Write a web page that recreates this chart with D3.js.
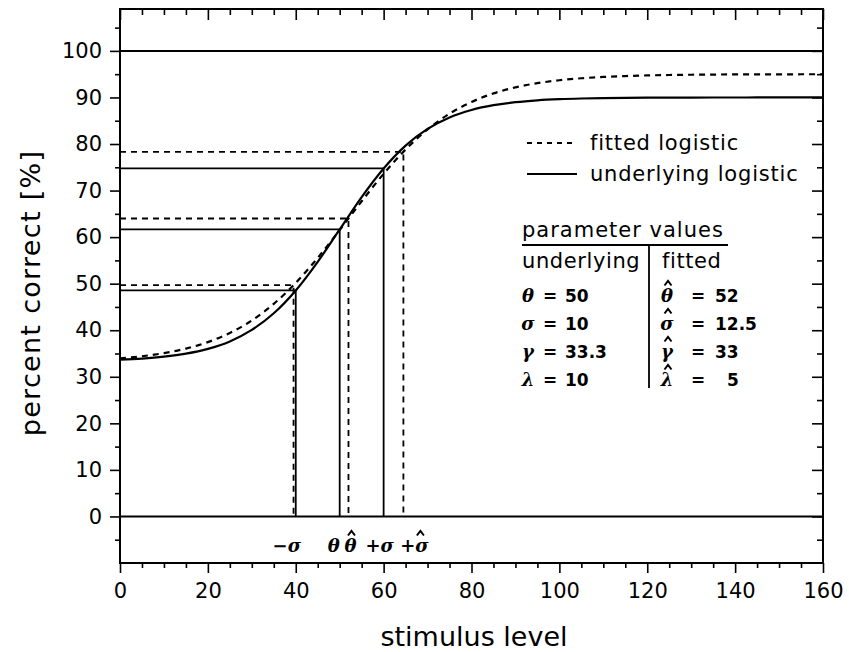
<!DOCTYPE html>
<html>
<head>
<meta charset="utf-8">
<script src="https://cdnjs.cloudflare.com/ajax/libs/d3/7.8.5/d3.min.js"></script>
<style>
    body { margin: 0; background: #fff; }
    svg { display: block; }
    .tick text { font-family: "DejaVu Sans", sans-serif; font-size: 21px; fill: #000; }
    .tick line { stroke: #000; stroke-width: 1.6; }
    .greek { font-family: "DejaVu Serif", serif; font-weight: bold; font-style: italic; }
    .num { font-family: "DejaVu Sans", sans-serif; font-weight: bold; }
    .lbl { font-family: "DejaVu Sans", sans-serif; }
</style>
</head>
<body>
<div id="chart_area"></div>
<script>
// stimulus levels and percent correct
var stimulus = [0, 5, 10, 15, 20, 25, 30, 35, 40, 45, 50, 55, 60, 65, 70, 75, 80,
    85, 90, 95, 100, 105, 110, 115, 120, 125, 130, 135, 140, 145, 150, 155, 160];
var underlyingPct = [33.68, 33.92, 34.32, 34.96, 35.99, 37.60, 40.06, 43.64, 48.55, 54.70, 61.65,
    68.60, 74.75, 79.66, 83.24, 85.70, 87.31, 88.34, 88.98, 89.38, 89.62, 89.77, 89.86,
    89.91, 89.95, 89.97, 89.98, 89.99, 89.99, 90.0, 90.0, 90.0, 90.0];
var fittedPct = [33.95, 34.41, 35.08, 36.05, 37.45, 39.41, 42.10, 45.66, 50.17, 55.54, 61.53,
    67.70, 73.60, 78.81, 83.13, 86.51, 89.03, 90.87, 92.17, 93.07, 93.70, 94.12, 94.41,
    94.60, 94.73, 94.82, 94.88, 94.92, 94.95, 94.96, 94.97, 94.98, 94.99];

// theta - sigma, theta, theta + sigma
var underlyingMarks = [40, 50, 60];
var underlyingMarkPct = [48.55, 61.65, 74.75];
var fittedMarks = [39.5, 52, 64.5];
var fittedMarkPct = [49.67, 64.0, 78.33];

var xTicks = [0, 20, 40, 60, 80, 100, 120, 140, 160];
var yTicks = [0, 10, 20, 30, 40, 50, 60, 70, 80, 90, 100];

var paramNames = ["θ", "σ", "γ", "λ"];
var underlyingParams = ["50", "10", "33.3", "10"];
var fittedParams = ["52", "12.5", "33", "5"];

var width = 849, height = 652;
var margin = { top: 9, right: 26, bottom: 89, left: 120 };

var svg = d3.select("#chart_area")
    .append("svg")
    .attr("width", width)
    .attr("height", height);

var x = d3.scaleLinear().domain([0, 160]).range([margin.left, width - margin.right]);
var y = d3.scaleLinear().domain([-10, 109]).range([height - margin.bottom, margin.top]);

var minorX = d3.range(0, 161, 5).filter(function (d) { return d % 20 !== 0; });
var minorY = d3.range(-5, 109, 5).filter(function (d) { return d % 10 !== 0 || d < 0 || d > 100; });

// axes: left/bottom ticks point out, top/right point in
function axisGroup(axis, tx, ty) {
    var g = svg.append("g").attr("transform", "translate(" + tx + "," + ty + ")").call(axis);
    g.select(".domain").remove();
    return g;
}
axisGroup(d3.axisLeft(y).tickValues(yTicks).tickSize(10).tickPadding(8), margin.left, 0);
axisGroup(d3.axisLeft(y).tickValues(minorY).tickSize(5).tickFormat(""), margin.left, 0);
axisGroup(d3.axisBottom(x).tickValues(xTicks).tickSize(10).tickPadding(10), 0, y(-10));
axisGroup(d3.axisBottom(x).tickValues(minorX).tickSize(5).tickFormat(""), 0, y(-10));
axisGroup(d3.axisBottom(x).tickValues(xTicks).tickSize(11).tickFormat(""), 0, y(109));
axisGroup(d3.axisBottom(x).tickValues(minorX).tickSize(6).tickFormat(""), 0, y(109));
axisGroup(d3.axisLeft(y).tickValues(yTicks).tickSize(11).tickFormat(""), x(160), 0);
axisGroup(d3.axisLeft(y).tickValues(minorY).tickSize(6).tickFormat(""), x(160), 0);

svg.append("rect")
    .attr("x", x(0)).attr("y", y(109))
    .attr("width", x(160) - x(0)).attr("height", y(-10) - y(109))
    .style("fill", "none").style("stroke", "#000").style("stroke-width", 2);

// 0 and 100 percent lines
svg.selectAll(".limit")
    .data([0, 100])
    .enter().append("line")
    .attr("class", "limit")
    .attr("x1", x(0)).attr("x2", x(160))
    .attr("y1", function (d) { return y(d); })
    .attr("y2", function (d) { return y(d); })
    .style("stroke", "#000").style("stroke-width", 2);

// drop lines from the curves to the axes
function dropLines(marks, pct, dash) {
    var g = svg.append("g")
        .style("stroke", "#000").style("stroke-width", 1.8).style("fill", "none")
        .style("stroke-dasharray", dash);
    marks.forEach(function (m, i) {
        g.append("path")
            .attr("d", "M" + x(0) + "," + y(pct[i]) + "H" + x(m) + "V" + y(0));
    });
}
dropLines(underlyingMarks, underlyingMarkPct, null);
dropLines(fittedMarks, fittedMarkPct, "6,5");

var line = d3.line()
    .x(function (d, i) { return x(stimulus[i]); })
    .y(function (d) { return y(d); })
    .curve(d3.curveMonotoneX);

svg.append("path")
    .datum(underlyingPct)
    .attr("d", line)
    .style("fill", "none").style("stroke", "#000").style("stroke-width", 2.2);

svg.append("path")
    .datum(fittedPct)
    .attr("d", line)
    .style("fill", "none").style("stroke", "#000").style("stroke-width", 2.2)
    .style("stroke-dasharray", "6,5");

// axis titles
svg.append("text")
    .attr("class", "lbl")
    .attr("x", 474).attr("y", 646)
    .attr("text-anchor", "middle")
    .style("font-size", "27px")
    .text("stimulus level");

svg.append("text")
    .attr("class", "lbl")
    .attr("transform", "translate(40,293) rotate(-90)")
    .attr("text-anchor", "middle")
    .style("font-size", "27px")
    .style("letter-spacing", "1.3px")
    .text("percent correct [%]");

// circumflex accent drawn over a letter
function hat(g, cx, base) {
    g.append("path")
        .attr("d", "M" + (cx - 3.5) + "," + (base - 16.5) + "L" + cx + "," + (base - 21) + "L" + (cx + 3.5) + "," + (base - 16.5))
        .style("fill", "none").style("stroke", "#000").style("stroke-width", 2);
}

// labels under the drop lines
var markLabels = [
    { t: "−σ", px: x(40) - 9, hat: null },
    { t: "θ", px: x(50) - 6, hat: null },
    { t: "θ", px: x(52) + 2, hat: 1 },
    { t: "+σ", px: x(60) - 4, hat: null },
    { t: "+σ", px: x(64.5) + 11, hat: 6 }
];
var labelG = svg.append("g");
markLabels.forEach(function (d) {
    labelG.append("text")
        .attr("class", "greek")
        .attr("x", d.px).attr("y", 552)
        .attr("text-anchor", "middle")
        .style("font-size", "18px")
        .text(d.t);
    if (d.hat !== null) hat(labelG, d.px + d.hat, 552);
});

// legend
var legend = svg.append("g").attr("class", "lbl").style("font-size", "21px").style("letter-spacing", "0.8px");
legend.append("line").attr("x1", 527).attr("x2", 577).attr("y1", 143).attr("y2", 143)
    .style("stroke", "#000").style("stroke-width", 1.8).style("stroke-dasharray", "5,5");
legend.append("text").attr("x", 590).attr("y", 150).text("fitted logistic");
legend.append("line").attr("x1", 527).attr("x2", 577).attr("y1", 174).attr("y2", 174)
    .style("stroke", "#000").style("stroke-width", 2);
legend.append("text").attr("x", 590).attr("y", 181).text("underlying logistic");

// parameter table
var table = svg.append("g");
table.append("text").attr("class", "lbl").attr("x", 522).attr("y", 237)
    .style("font-size", "21px").style("letter-spacing", "1px").text("parameter values");
table.append("line").attr("x1", 522).attr("x2", 728).attr("y1", 245).attr("y2", 245)
    .style("stroke", "#000").style("stroke-width", 1.8);
table.append("line").attr("x1", 649).attr("x2", 649).attr("y1", 245).attr("y2", 388)
    .style("stroke", "#000").style("stroke-width", 1.8);
table.append("text").attr("class", "lbl").attr("x", 522).attr("y", 268)
    .style("font-size", "21px").style("letter-spacing", "0.6px").text("underlying");
table.append("text").attr("class", "lbl").attr("x", 662).attr("y", 268)
    .style("font-size", "21px").style("letter-spacing", "0.6px").text("fitted");

var rowY = d3.scalePoint().domain(paramNames).range([302, 386]);
paramNames.forEach(function (p, i) {
    var ry = rowY(p);
    table.append("text").attr("class", "greek").attr("x", 528).attr("y", ry)
        .attr("text-anchor", "middle").style("font-size", "18px").text(p);
    table.append("text").attr("class", "num").attr("x", 550).attr("y", ry)
        .attr("text-anchor", "middle").style("font-size", "17px").text("=");
    table.append("text").attr("class", "num").attr("x", 565).attr("y", ry)
        .style("font-size", "17px").text(underlyingParams[i]);

    table.append("text").attr("class", "greek").attr("x", 667).attr("y", ry)
        .attr("text-anchor", "middle").style("font-size", "18px").text(p);
    hat(table, 668, ry);
    table.append("text").attr("class", "num").attr("x", 698).attr("y", ry)
        .attr("text-anchor", "middle").style("font-size", "17px").text("=");
    table.append("text").attr("class", "num").attr("x", fittedParams[i].length === 1 ? 727 : 715).attr("y", ry)
        .style("font-size", "17px").text(fittedParams[i]);
});
</script>
</body>
</html>
